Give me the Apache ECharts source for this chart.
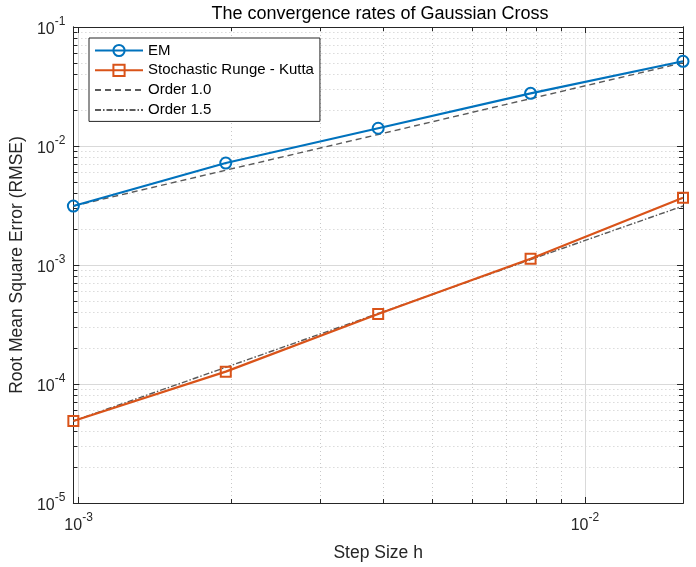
<!DOCTYPE html>
<html>
<head>
<meta charset="utf-8">
<script src="https://cdn.jsdelivr.net/npm/echarts@6/dist/echarts.min.js"></script>
<style>
  html, body { margin: 0; padding: 0; background: #fff; }
  #chart { width: 696px; height: 567px; }
</style>
</head>
<body>
<div id="chart"></div>
<script>
var stepSizes = [0.0009765625, 0.001953125, 0.00390625, 0.0078125, 0.015625]
var emRmse = [3.13e-3, 7.19e-3, 1.41e-2, 2.77e-2, 5.15e-2]
var srkRmse = [4.89e-5, 1.27e-4, 3.87e-4, 1.13e-3, 3.68e-3]
var order10 = [3.13e-3, 6.26e-3, 1.25e-2, 2.50e-2, 5.00e-2]
var order15 = [4.89e-5, 1.38e-4, 3.91e-4, 1.11e-3, 3.13e-3]

var xMajor = [1e-3, 1e-2]
var yMajor = [1e-5, 1e-4, 1e-3, 1e-2, 1e-1]
var mantissas = [2, 3, 4, 5, 6, 7, 8, 9]

var lg = Math.log10
var xMin = lg(stepSizes[0])
var xMax = lg(stepSizes[stepSizes.length - 1])
var yMin = -5
var yMax = -1

function minorsOf(majors, lo, hi) {
  var out = []
  majors.concat([majors[0] / 10]).forEach(function(d) {
    mantissas.forEach(function(m) {
      var v = lg(m * d)
      if (v > lo && v < hi) out.push(v)
    })
  })
  return out
}
var xMinor = minorsOf(xMajor, xMin, xMax)
var yMinor = minorsOf(yMajor, yMin - 0.001, yMax + 0.001)

function pairs(ys) {
  return stepSizes.map(function(h, i) { return [lg(h), lg(ys[i])] })
}

var axisColor = '#262626'
var majorGrid = { show: true, lineStyle: { color: '#d9d9d9', width: 1, type: 'solid' } }
var minorGrid = { show: true, lineStyle: { color: '#c8c8c8', width: 1, type: [1, 3] } }
var richLabel = {
  b: { fontSize: 16, color: axisColor, fontFamily: 'Liberation Sans', verticalAlign: 'bottom', lineHeight: 22 },
  s: { fontSize: 12, color: axisColor, fontFamily: 'Liberation Sans', verticalAlign: 'top', lineHeight: 22 }
}
function powLabel(v) {
  return '{b|10}{s|' + Math.round(v) + '}'
}

function makeAxis(pos, lo, hi, ticks, opts) {
  return Object.assign({
    type: 'value',
    position: pos,
    min: lo,
    max: hi,
    axisLine: { show: true, onZero: false, lineStyle: { color: axisColor, width: 1 } },
    axisTick: { show: true, inside: true, length: 6, customValues: ticks, lineStyle: { color: axisColor } },
    axisLabel: { show: false, customValues: ticks },
    splitLine: { show: false }
  }, opts || {})
}

var xMajorVals = xMajor.map(lg)
var yMajorVals = yMajor.map(lg)

var chart = echarts.init(document.getElementById('chart'))
chart.setOption({
  backgroundColor: '#fff',
  animation: false,
  title: {
    text: 'The convergence rates of Gaussian Cross',
    left: 375,
    textAlign: 'center',
    top: 0,
    textStyle: { fontSize: 18, fontWeight: 'normal', color: '#000', fontFamily: 'Liberation Sans' }
  },
  grid: { left: 68, right: 13, top: 27, bottom: 64 },
  legend: {
    orient: 'vertical',
    left: 89,
    top: 38,
    padding: [5, 6, 4, 5],
    itemWidth: 48,
    itemHeight: 14,
    itemGap: 4.8,
    backgroundColor: '#fff',
    borderColor: axisColor,
    borderWidth: 1,
    borderRadius: 0,
    textStyle: { fontSize: 15, color: '#000', fontFamily: 'Liberation Sans', lineHeight: 14 },
    data: [
      'EM',
      'Stochastic Runge - Kutta',
      { name: 'Order 1.0', itemStyle: { opacity: 0 } },
      { name: 'Order 1.5', itemStyle: { opacity: 0 } }
    ]
  },
  xAxis: [
    makeAxis('bottom', xMin, xMax, xMajorVals, {
      name: 'Step Size h',
      nameLocation: 'middle',
      nameGap: 41,
      nameTextStyle: { fontSize: 17.5, color: axisColor, fontFamily: 'Liberation Sans' },
      axisLabel: { show: true, customValues: xMajorVals, margin: 9, formatter: powLabel, rich: richLabel },
      splitLine: majorGrid
    }),
    makeAxis('bottom', xMin, xMax, xMinor, {
      axisTick: { show: true, inside: true, length: 4, customValues: xMinor, lineStyle: { color: axisColor } },
      splitLine: minorGrid
    }),
    makeAxis('top', xMin, xMax, xMajorVals),
    makeAxis('top', xMin, xMax, xMinor, {
      axisTick: { show: true, inside: true, length: 4, customValues: xMinor, lineStyle: { color: axisColor } }
    })
  ],
  yAxis: [
    makeAxis('left', yMin, yMax, yMajorVals, {
      name: 'Root Mean Square Error (RMSE)',
      nameLocation: 'middle',
      nameGap: 42,
      nameTextStyle: { fontSize: 17.5, color: axisColor, fontFamily: 'Liberation Sans' },
      axisLabel: { show: true, customValues: yMajorVals, margin: 8, formatter: powLabel, rich: richLabel },
      splitLine: majorGrid
    }),
    makeAxis('left', yMin, yMax, yMinor, {
      axisTick: { show: true, inside: true, length: 4, customValues: yMinor, lineStyle: { color: axisColor } },
      splitLine: minorGrid
    }),
    makeAxis('right', yMin, yMax, yMajorVals),
    makeAxis('right', yMin, yMax, yMinor, {
      axisTick: { show: true, inside: true, length: 4, customValues: yMinor, lineStyle: { color: axisColor } }
    })
  ],
  series: [
    {
      name: 'Order 1.0',
      type: 'line',
      data: pairs(order10),
      symbol: 'none',
      color: '#5a5a5a',
      lineStyle: { color: '#5a5a5a', width: 1.4, type: [6, 4] },
      z: 3
    },
    {
      name: 'Order 1.5',
      type: 'line',
      data: pairs(order15),
      symbol: 'none',
      color: '#5a5a5a',
      lineStyle: { color: '#5a5a5a', width: 1.4, type: [6, 2, 1.5, 2] },
      z: 3
    },
    {
      name: 'EM',
      type: 'line',
      data: pairs(emRmse),
      symbol: 'circle',
      symbolSize: 11,
      color: '#0072BD',
      lineStyle: { color: '#0072BD', width: 2.2 },
      itemStyle: { color: 'rgba(255,255,255,0)', borderColor: '#0072BD', borderWidth: 2 },
      z: 4
    },
    {
      name: 'Stochastic Runge - Kutta',
      type: 'line',
      data: pairs(srkRmse),
      symbol: 'rect',
      symbolSize: 10,
      color: '#D95319',
      lineStyle: { color: '#D95319', width: 2.2 },
      itemStyle: { color: 'rgba(255,255,255,0)', borderColor: '#D95319', borderWidth: 2 },
      z: 4
    }
  ]
})
</script>
</body>
</html>
